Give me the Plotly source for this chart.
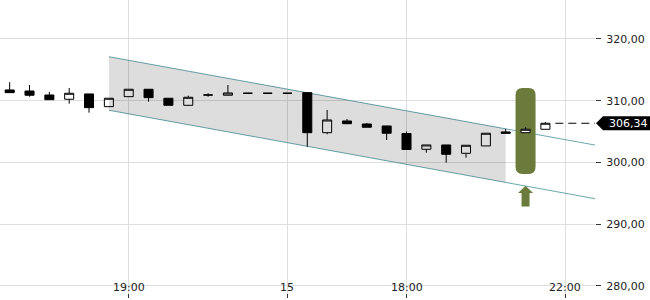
import plotly.graph_objects as go

# ---- data ----
idx = list(range(28))
opens = [311.74, 311.57, 310.92, 310.23, 311.09, 309.03, 310.65, 311.85, 310.39, 309.25,
         310.92, 310.88, 311.20, 311.20, 311.20, 311.30, 304.81, 306.71, 306.22, 305.90,
         304.68, 302.12, 302.82, 301.47, 302.66, 304.93, 304.81, 305.36]
highs = [313.00, 312.54, 311.41, 312.06, 311.09, 310.39, 311.85, 311.85, 310.39, 310.81,
         311.20, 312.54, 311.20, 311.20, 311.20, 311.30, 308.49, 307.03, 306.39, 305.90,
         305.00, 302.82, 302.82, 302.77, 304.72, 305.41, 305.69, 306.55]
lows = [311.30, 310.65, 310.16, 309.51, 308.06, 309.03, 310.65, 309.84, 309.25, 309.25,
        310.65, 310.88, 311.20, 311.20, 311.20, 302.54, 304.55, 306.18, 305.69, 303.63,
        302.09, 301.57, 299.95, 300.76, 302.66, 304.72, 304.81, 305.36]
closes = [311.30, 310.88, 310.16, 311.20, 308.87, 310.39, 311.85, 310.49, 309.25, 310.55,
          310.92, 311.25, 311.20, 311.20, 311.20, 304.81, 306.87, 306.27, 305.69, 304.72,
          302.09, 302.82, 301.31, 302.77, 304.72, 304.72, 305.36, 306.34]

tick_pos = [6, 14, 20, 28]
tick_text = ["19:00", "15", "18:00", "22:00"]
y_ticks = [280, 290, 300, 310, 320]

channel_x = [5, 30]
channel_upper = [317.13, 302.51]
channel_lower = [308.45, 293.82]
shade_x = [5, 25]
shade_upper = [317.13, 305.43]
shade_lower = [308.45, 296.75]

highlight_x = 26
highlight_low = 298.12
highlight_high = 312.06
arrow_tip = 296.2

last_price = 306.34
last_line_x = [27.5, 30]

# ---- layout constants ----
W, H = 650, 300
ML, MR, MT, MB = 0, 55, 0, 2
XR = [-0.487, 29.50]
YR = [278.01, 326.32]
pw, ph = W - ML - MR, H - MT - MB
px_x = pw / (XR[1] - XR[0])
px_y = ph / (YR[1] - YR[0])
GREEN = "#6a7b3b"

fig = go.Figure()

# channel shading
fig.add_trace(go.Scatter(
    x=[shade_x[0], shade_x[1], shade_x[1], shade_x[0], shade_x[0]],
    y=[shade_upper[0], shade_upper[1], shade_lower[1], shade_lower[0], shade_upper[0]],
    fill="toself", fillcolor="rgba(0,0,0,0.135)", line=dict(width=0),
    mode="lines", hoverinfo="skip", showlegend=False))

# channel lines (between grid and traces, so the highlight covers them)
for ys in (channel_upper, channel_lower):
    fig.add_shape(type="line", xref="x", yref="y", x0=channel_x[0], x1=channel_x[1],
                  y0=ys[0], y1=ys[1], line=dict(color="#6aa8b2", width=1), layer="between")

# highlight pill (rounded rectangle), below candles
hw = 10 / px_x
r_px = 7
rx, ry = r_px / px_x, r_px / px_y
x0, x1 = highlight_x - hw, highlight_x + hw
y0, y1 = highlight_low, highlight_high
path = (f"M {x0 + rx},{y1} L {x1 - rx},{y1} Q {x1},{y1} {x1},{y1 - ry} "
        f"L {x1},{y0 + ry} Q {x1},{y0} {x1 - rx},{y0} L {x0 + rx},{y0} "
        f"Q {x0},{y0} {x0},{y0 + ry} L {x0},{y1 - ry} Q {x0},{y1} {x0 + rx},{y1} Z")
fig.add_shape(type="path", xref="x", yref="y", path=path, fillcolor=GREEN,
              line=dict(width=0), layer="between")

# arrow below the pill
hh = 7.5 / px_x
sh = 4 / px_x
head_h = 7.3 / px_y
tot_h = 20.7 / px_y
ax = [highlight_x, highlight_x + hh, highlight_x + sh, highlight_x + sh,
      highlight_x - sh, highlight_x - sh, highlight_x - hh, highlight_x]
ay = [arrow_tip, arrow_tip - head_h, arrow_tip - head_h, arrow_tip - tot_h,
      arrow_tip - tot_h, arrow_tip - head_h, arrow_tip - head_h, arrow_tip]
fig.add_trace(go.Scatter(x=ax, y=ay, fill="toself", fillcolor=GREEN,
                         line=dict(width=0), mode="lines", hoverinfo="skip", showlegend=False))

# last price dashed line
fig.add_trace(go.Scatter(x=last_line_x, y=[last_price, last_price], mode="lines",
                         line=dict(color="black", width=1, dash="8px,5px"),
                         hoverinfo="skip", showlegend=False))

# candles
fig.add_trace(go.Candlestick(
    x=idx, open=opens, high=highs, low=lows, close=closes,
    increasing=dict(fillcolor="white", line=dict(color="black", width=1)),
    decreasing=dict(fillcolor="black", line=dict(color="black", width=1)),
    whiskerwidth=0, showlegend=False))

# last price label
tip_p = 1 + 1 / pw
box_l = 1 + 8 / pw
box_r = 1 + 60 / pw
hy = 7 / px_y
fig.add_shape(type="path", xref="paper", yref="y",
              path=(f"M {tip_p},{last_price} L {box_l},{last_price + hy} L {box_r},{last_price + hy} "
                    f"L {box_r},{last_price - hy} L {box_l},{last_price - hy} Z"),
              fillcolor="black", line=dict(width=0), layer="above")
fig.add_annotation(xref="paper", yref="y", x=1 + 12 / pw, y=last_price,
                   xanchor="left", yanchor="middle", showarrow=False,
                   text=f"{last_price:.2f}".replace(".", ","),
                   font=dict(color="white", size=11, family="DejaVu Sans"))

# x tick labels placed just above the inside ticks
for p, t in zip(tick_pos, tick_text):
    fig.add_annotation(xref="x", yref="paper", x=p, y=11 / ph, text=t,
                       xanchor="center", yanchor="middle", showarrow=False,
                       font=dict(size=11, color="#222", family="DejaVu Sans"))

fig.update_layout(
    width=W, height=H, margin=dict(l=ML, r=MR, t=MT, b=MB),
    paper_bgcolor="white", plot_bgcolor="white",
    separators=",.", boxgap=0.35,
    font=dict(family="DejaVu Sans", size=11, color="#222"),
    xaxis=dict(range=XR, tickvals=tick_pos, ticktext=tick_text,
               ticks="inside", ticklen=4, tickcolor="#333", showticklabels=False,
               showgrid=True, gridcolor="#dedede",
               zeroline=False, showline=False, rangeslider=dict(visible=False)),
    yaxis=dict(range=YR, side="right", tickvals=y_ticks, tickformat=".2f",
               ticks="outside", ticklen=5, tickcolor="#333", ticklabelstandoff=3,
               showgrid=True, gridcolor="#dedede", zeroline=False, showline=False,
               tickfont=dict(size=11, color="#222")),
)

fig.write_html("out.html")
